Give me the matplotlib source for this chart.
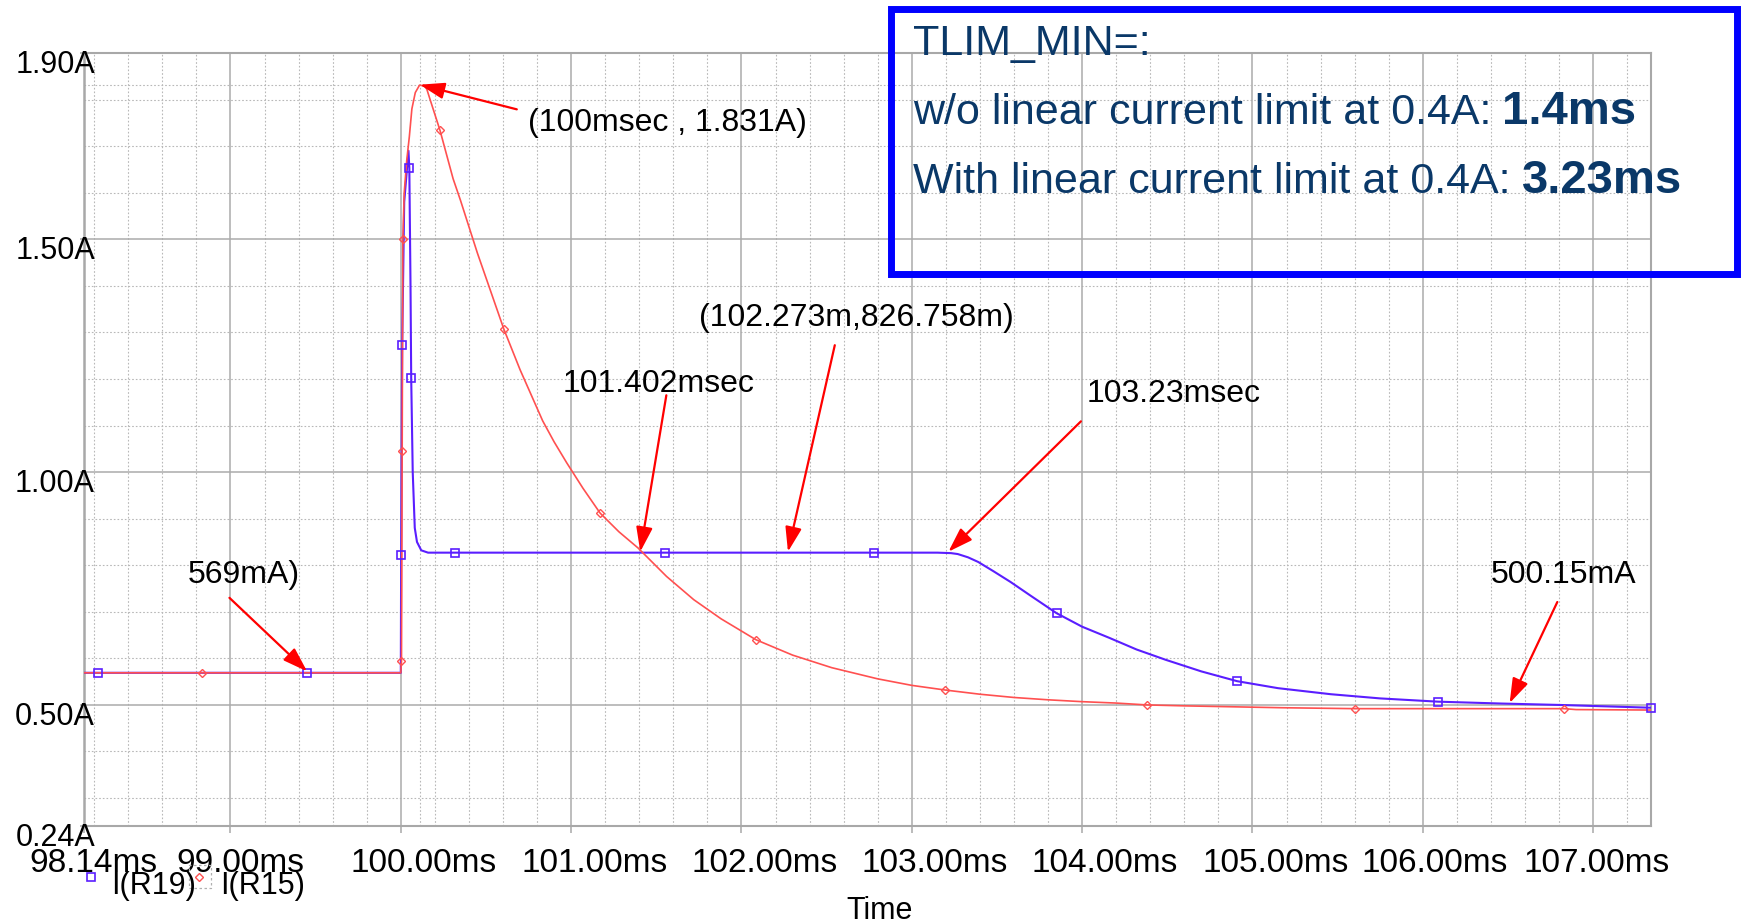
import matplotlib
matplotlib.use("Agg")
import numpy as np
import matplotlib.pyplot as plt
from matplotlib.lines import Line2D
from matplotlib.patches import Rectangle
from matplotlib.transforms import ScaledTranslation

plt.rcParams['font.family'] = ['Liberation Sans', 'DejaVu Sans']

W, H = 1742, 924

# ---------------- data ----------------
# I(R15) (red, diamonds)
red_t = [98.14, 100.000, 100.004, 100.008, 100.012, 100.020, 100.035, 100.050, 100.065,
         100.085, 100.110, 100.140, 100.153, 100.172, 100.230, 100.307, 100.350, 100.450,
         100.605, 100.700, 100.833, 100.900, 100.974, 101.070, 101.170, 101.280, 101.393,
         101.560, 101.720, 101.880, 102.085, 102.300, 102.530, 102.800, 103.000, 103.196,
         103.400, 103.600, 103.800, 104.000, 104.200, 104.380, 104.600, 105.170, 105.600,
         106.830, 106.900, 107.340]
red_i = [0.569, 0.569, 0.594, 1.045, 1.500, 1.600, 1.670, 1.720, 1.780,
         1.815, 1.831, 1.829, 1.822, 1.800, 1.734, 1.630, 1.584, 1.470,
         1.307, 1.220, 1.110, 1.065, 1.020, 0.965, 0.912, 0.872, 0.837,
         0.776, 0.726, 0.685, 0.640, 0.607, 0.580, 0.556, 0.542, 0.532,
         0.523, 0.516, 0.511, 0.507, 0.504, 0.500, 0.498, 0.494, 0.492,
         0.492, 0.490, 0.489]
red_mk_t = [98.83, 100.004, 100.008, 100.012, 100.230, 100.605, 101.170, 102.085,
            103.196, 104.380, 105.600, 106.830]
red_mk_i = [0.569, 0.594, 1.045, 1.500, 1.734, 1.307, 0.912, 0.640,
            0.532, 0.500, 0.492, 0.492]

# I(R19) (blue, squares)
blue_t = [98.14, 100.000, 100.002, 100.008, 100.020, 100.045, 100.050, 100.057, 100.061,
          100.070, 100.082, 100.095, 100.120, 100.160, 100.320, 101.550, 102.780, 103.150,
          103.230, 103.270, 103.330, 103.390, 103.480, 103.580, 103.700, 103.850, 104.000,
          104.160, 104.320, 104.490, 104.700, 104.910, 105.150, 105.460, 105.750, 106.090,
          106.460, 106.800, 107.340]
blue_i = [0.569, 0.569, 0.822, 1.273, 1.580, 1.690, 1.653, 1.400, 1.202,
          1.000, 0.880, 0.850, 0.832, 0.827, 0.827, 0.827, 0.827, 0.827,
          0.826, 0.824, 0.817, 0.807, 0.787, 0.764, 0.734, 0.697, 0.668,
          0.644, 0.619, 0.597, 0.572, 0.551, 0.536, 0.523, 0.514, 0.507,
          0.503, 0.500, 0.494]
blue_mk_t = [98.22, 99.45, 100.002, 100.008, 100.050, 100.061, 100.320, 101.550,
             102.780, 103.850, 104.910, 106.090, 107.340]
blue_mk_i = [0.569, 0.569, 0.822, 1.273, 1.653, 1.202, 0.827, 0.827,
             0.827, 0.697, 0.551, 0.507, 0.494]

x_ticks = [98.14, 99, 100, 101, 102, 103, 104, 105, 106, 107]
x_tick_labels = ['98.14ms', '99.00ms', '100.00ms', '101.00ms', '102.00ms', '103.00ms',
                 '104.00ms', '105.00ms', '106.00ms', '107.00ms']
y_ticks = [0.24, 0.50, 1.00, 1.50, 1.90]
y_tick_labels = ['0.24A', '0.50A', '1.00A', '1.50A', '1.90A']

series_names = ['I(R19)', 'I(R15)']

cursor_t, cursor_i = 100.113, 1.831

# annotations: text, text position (baseline), arrow start, arrow tip, alignment
annotations = [
    ('(100msec , 1.831A)', (100.745, 1.732), (100.681, 1.779), (100.112, 1.832), 'left'),
    ('101.402msec', (100.950, 1.172), (101.559, 1.165), (101.406, 0.829), 'left'),
    ('(102.273m,826.758m)', (101.752, 1.313), (102.548, 1.2725), (102.273, 0.829), 'left'),
    ('103.23msec', (104.028, 1.150), (103.993, 1.109), (103.215, 0.829), 'left'),
    ('569mA)', (98.749, 0.762), (98.994, 0.730), (99.450, 0.572), 'left'),
    ('500.15mA', (107.252, 0.762), (106.790, 0.721), (106.510, 0.504), 'right'),
]

box_title = 'TLIM_MIN=:'
box_lines = [('w/o linear current limit at 0.4A:', '1.4ms'),
             ('With linear current limit at 0.4A:', '3.23ms')]

# ---------------- style ----------------
RED = '#ff5050'
BLUE = '#5a1eff'
ARROW = '#ff0000'
NAVY = '#0a3868'
GMAJ = '#ababab'
GMIN = '#b8b8b8'
FS = 22
FS_ANN = 23
FS_XT = 24
# horizontal shift (pixels) of each x tick label relative to its tick
x_label_shift = [9, 10, 23, 23, 23, 23, 23, 23, 12, 4]

def fx(px):
    return px / W

def fy(py):
    return 1 - py / H

fig = plt.figure(figsize=(W / 100, H / 100), dpi=100)
L, R, T, B = 84, 1651, 53, 826
ax = fig.add_axes([fx(L), fy(B), (R - L) / W, (B - T) / H])
ax.set_xlim(98.14, 107.34)
ax.set_ylim(0.24, 1.90)

dots = (0, (1.5, 1.8))
for x in np.arange(98.2, 107.34, 0.2):
    if abs(x - round(x)) > 1e-6:
        ax.axvline(x, color=GMIN, lw=0.8, ls=dots, zorder=1)
for y in np.arange(0.3, 1.89, 0.1):
    if abs(y * 2 - round(y * 2)) > 1e-6:
        ax.axhline(y, color=GMIN, lw=0.8, ls=dots, zorder=1)
for x in x_ticks[1:]:
    ax.axvline(x, color=GMAJ, lw=1.1, zorder=1)
for y in y_ticks[1:-1]:
    ax.axhline(y, color=GMAJ, lw=1.1, zorder=1)
ax.axvline(cursor_t, color=GMIN, lw=0.8, ls=dots, zorder=1)
ax.axhline(cursor_i, color=GMIN, lw=0.8, ls=dots, zorder=1)

for s in ax.spines.values():
    s.set_color('#a8a8a8')
    s.set_linewidth(1.5)
ax.spines['left'].set_linewidth(1.8)

ax.set_xticks(x_ticks, [''] * len(x_ticks))
ax.set_yticks(y_ticks, [''] * len(y_ticks))
ax.tick_params(axis='x', length=5, width=1.1, color='#a8a8a8', direction='out')
ax.tick_params(axis='y', length=3, width=1.1, color='#a8a8a8', direction='out')

for x, lab, sh in zip(x_ticks, x_tick_labels, x_label_shift):
    tr = ax.get_xaxis_transform() + ScaledTranslation(sh / 100, -0.215, fig.dpi_scale_trans)
    ax.text(x, 0, lab, transform=tr, ha='center', va='top', fontsize=FS_XT, color='black')
ytr = ax.get_yaxis_transform() + ScaledTranslation(0.11, 0.03, fig.dpi_scale_trans)
for y, lab in zip(y_ticks, y_tick_labels):
    ax.text(0, y, lab, transform=ytr, ha='right', va='top', fontsize=FS, color='black',
            zorder=6)

# curves
ax.plot(blue_t, blue_i, color=BLUE, lw=1.5, zorder=3)
ax.plot(red_t, red_i, color=RED, lw=1.2, zorder=4)
ax.plot(blue_mk_t, blue_mk_i, ls='none', marker='s', ms=6, mfc='none', mec=BLUE,
        mew=1.2, zorder=5, clip_on=False)
ax.plot(red_mk_t, red_mk_i, ls='none', marker='D', ms=4.4, mfc='none', mec=RED,
        mew=1.0, zorder=5, clip_on=False)

# annotations
for txt, tpos, a0, a1, ha in annotations:
    ax.text(tpos[0], tpos[1], txt, ha=ha, va='baseline', fontsize=FS_ANN, color='black',
            zorder=7)
    ax.annotate('', xy=a1, xytext=a0,
                arrowprops=dict(arrowstyle='-|>,head_length=0.75,head_width=0.25',
                                color=ARROW, lw=1.6, shrinkA=0, shrinkB=0,
                                mutation_scale=20),
                zorder=7)

# x label
fig.text(fx(880), fy(919), 'Time', ha='center', va='baseline', fontsize=FS)

# legend
fig.add_artist(Line2D([fx(91)], [fy(877)], marker='s', ms=6, mfc='none', mec=BLUE,
                      mew=1.2, ls='none', transform=fig.transFigure))
fig.text(fx(111), fy(894), series_names[0], ha='left', va='baseline', fontsize=FS)
fig.add_artist(Rectangle((fx(189), fy(888)), 22 / W, 23 / H, transform=fig.transFigure,
                         fill=False, ec='#b0b0b0', lw=0.9, ls=(0, (2, 2))))
fig.add_artist(Line2D([fx(199)], [fy(877)], marker='D', ms=4.4, mfc='none', mec=RED,
                      mew=1.0, ls='none', transform=fig.transFigure))
fig.text(fx(220), fy(894), series_names[1], ha='left', va='baseline', fontsize=FS)

# info box
fig.add_artist(Rectangle((fx(891), fy(274)), (1737 - 891) / W, (274 - 9) / H,
                         transform=fig.transFigure, fill=False, ec='#0000ff', lw=5))
fig.text(fx(913), fy(55), box_title, ha='left', va='baseline', fontsize=31, color=NAVY)
for (reg, bold), base in zip(box_lines, [124, 193]):
    t = fig.text(fx(913), fy(base), reg, ha='left', va='baseline', fontsize=31, color=NAVY)
    ax.annotate(bold, xy=(1.0, fy(base)), xycoords=(t, 'figure fraction'),
                xytext=(11, 0), textcoords='offset pixels', ha='left', va='baseline',
                fontsize=34, fontweight='bold', color=NAVY, annotation_clip=False)

fig.savefig('out.png', dpi=100)
